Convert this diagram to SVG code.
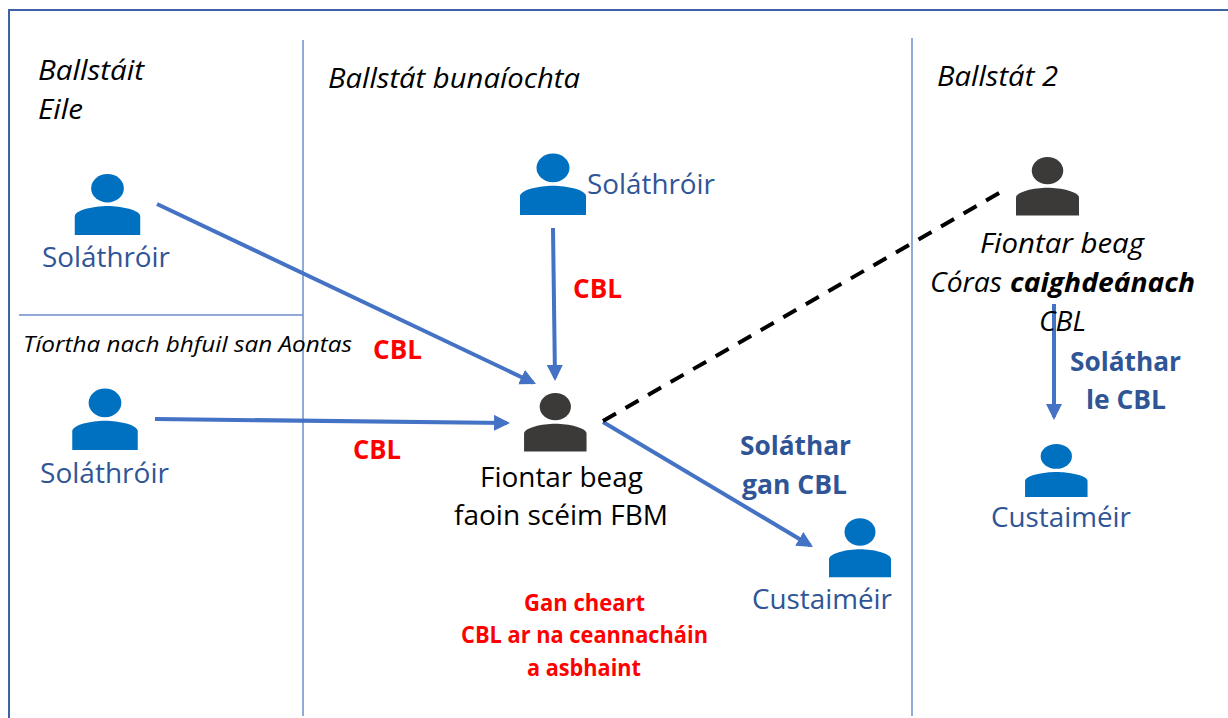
<svg xmlns="http://www.w3.org/2000/svg" width="1228" height="718" viewBox="0 0 1228 718">
<style>
text{font-family:"Open Sans","Noto Sans","Liberation Sans",sans-serif;font-size:27.5px}
.k{fill:#000}.i{font-style:italic}.b{font-weight:700}
.bl{fill:#2f5597}.r{fill:#f00}
.sm{font-size:23px}.xs{font-size:22.500px}
.div{stroke:#6d8fcc;stroke-width:1.5;fill:none}
.c{stroke:#4472c4;stroke-width:4;fill:none}
.blue{fill:#0070c0}.dark{fill:#3b3a39}
</style>
<defs>
<marker id="a" markerUnits="userSpaceOnUse" markerWidth="17" markerHeight="16" refX="13" refY="8" orient="auto"><path d="M0 0L16 8L0 16Z" fill="#4472c4"/></marker>
<g id="p"><ellipse cx="0" cy="13.750" rx="15.500" ry="13.750"/><path d="M-31 59V41C-31 35-13 31 0 31S31 35 31 41V59Z"/></g>
</defs>
<rect width="1228" height="718" fill="#fff"/>
<g id="frame"><path d="M1228 10H9V718" fill="none" stroke="#3e62a3" stroke-width="2"/>
<path class="div" d="M303 40V716M912 38V716M19 315H303"/></g>
<g id="connectors">
<path class="c" d="M157 204L533.300 382.700" marker-end="url(#a)"/>
<path class="c" d="M155 419L507 423" marker-end="url(#a)"/>
<path class="c" d="M553 228L555 378" marker-end="url(#a)"/>
<path class="c" d="M603 422L810.400 545.500" marker-end="url(#a)"/>
<path class="c" d="M1054 304V417" marker-end="url(#a)"/>
<path d="M603 421L1001 192" fill="none" stroke="#000" stroke-width="4" stroke-dasharray="15 11"/>
</g>
<g id="region-labels" class="k">
<text class="i" x="38" y="80" textLength="106" lengthAdjust="spacingAndGlyphs">Ballstáit</text>
<text class="i" x="38" y="119" textLength="45" lengthAdjust="spacingAndGlyphs">Eile</text>
<text class="i" x="328" y="88" textLength="252" lengthAdjust="spacingAndGlyphs">Ballstát bunaíochta</text>
<text class="i" x="937" y="86" textLength="121" lengthAdjust="spacingAndGlyphs">Ballstát 2</text>
<text class="i xs" x="23" y="352" textLength="329" lengthAdjust="spacingAndGlyphs">Tíortha nach bhfuil san Aontas</text>
</g>
<g id="supplier-1"><use href="#p" class="blue" transform="translate(107.500 174) scale(1.056 1.034)"/><text class="bl" x="42" y="267" textLength="128" lengthAdjust="spacingAndGlyphs">Soláthróir</text></g>
<g id="supplier-2"><use href="#p" class="blue" transform="translate(553 153.500) scale(1.065 1.042)"/><text class="bl" x="587" y="194" textLength="128" lengthAdjust="spacingAndGlyphs">Soláthróir</text></g>
<g id="supplier-3"><use href="#p" class="blue" transform="translate(105 388.500) scale(1.056 1.042)"/><text class="bl" x="40" y="483" textLength="129" lengthAdjust="spacingAndGlyphs">Soláthróir</text></g>
<g id="small-business"><use href="#p" class="dark" transform="translate(555.300 393) scale(1.008 .992)"/><text class="k" x="480" y="487" textLength="163" lengthAdjust="spacingAndGlyphs">Fiontar beag</text><text class="k" x="454" y="525" textLength="214" lengthAdjust="spacingAndGlyphs">faoin scéim FBM</text></g>
<g id="small-business-2"><use href="#p" class="dark" transform="translate(1047.500 157) scale(1.016 .992)"/>
<text class="k i" x="980" y="253" textLength="164" lengthAdjust="spacingAndGlyphs">Fiontar beag</text>
<text class="k i" x="930" y="292" textLength="72" lengthAdjust="spacingAndGlyphs">Córas</text><text class="k i b" x="1010" y="292" textLength="185" lengthAdjust="spacingAndGlyphs">caighdeánach</text>
<text class="k i" x="1039" y="331" textLength="47" lengthAdjust="spacingAndGlyphs">CBL</text></g>
<g id="customer-1"><use href="#p" class="blue" transform="translate(860 518.300)"/><text class="bl" x="752" y="609" textLength="140" lengthAdjust="spacingAndGlyphs">Custaiméir</text></g>
<g id="customer-2"><use href="#p" class="blue" transform="translate(1056.300 444) scale(1.008 .9)"/><text class="bl" x="991" y="527" textLength="140" lengthAdjust="spacingAndGlyphs">Custaiméir</text></g>
<g id="edge-labels">
<text class="r b" x="373" y="359" textLength="49" lengthAdjust="spacingAndGlyphs">CBL</text>
<text class="r b" x="573" y="298" textLength="49" lengthAdjust="spacingAndGlyphs">CBL</text>
<text class="r b" x="353" y="459" textLength="48" lengthAdjust="spacingAndGlyphs">CBL</text>
<text class="bl b" x="740" y="455" textLength="111" lengthAdjust="spacingAndGlyphs">Soláthar</text>
<text class="bl b" x="742" y="494" textLength="105" lengthAdjust="spacingAndGlyphs">gan CBL</text>
<text class="bl b" x="1070" y="371" textLength="111" lengthAdjust="spacingAndGlyphs">Soláthar</text>
<text class="bl b" x="1086" y="409" textLength="80" lengthAdjust="spacingAndGlyphs">le CBL</text>
<text class="r b sm" x="524" y="611" textLength="121" lengthAdjust="spacingAndGlyphs">Gan cheart</text>
<text class="r b sm" x="461" y="643" textLength="247" lengthAdjust="spacingAndGlyphs">CBL ar na ceannacháin</text>
<text class="r b sm" x="527" y="676" textLength="114" lengthAdjust="spacingAndGlyphs">a asbhaint</text>
</g>
</svg>
